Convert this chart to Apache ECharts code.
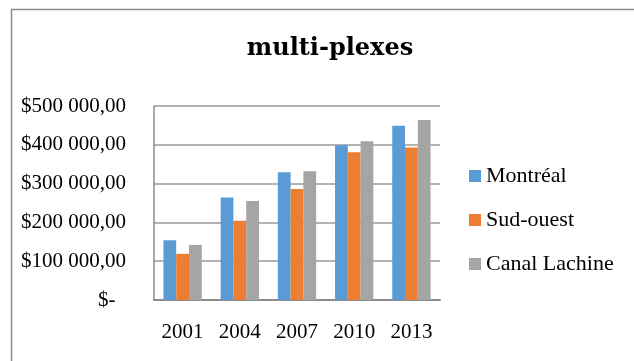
<!DOCTYPE html>
<html>
<head>
<meta charset="utf-8">
<script src="https://cdn.jsdelivr.net/npm/echarts@6/dist/echarts.min.js"></script>
<style>
  html, body { margin: 0; padding: 0; background: #fff; }
  #chart { width: 634px; height: 361px; }
</style>
</head>
<body>
<div id="chart"></div>
<script>
// Average multiplex values by survey year
const years = ['2001', '2004', '2007', '2010', '2013'];
const montreal = [154000, 264000, 329000, 399000, 449000];
const sudOuest = [119000, 204000, 286000, 381000, 393000];
const canalLachine = [142000, 255000, 332000, 409000, 464000];
const seriesNames = ['Montréal', 'Sud-ouest', 'Canal Lachine'];
const yTicks = { min: 0, max: 500000, step: 100000 };

const FONT = '"Liberation Serif", "DejaVu Serif", serif';
const TITLE_FONT = '"DejaVu Serif", "Liberation Serif", serif';

function money(v) {
  if (v === 0) return '$-  ';
  const s = Math.round(v).toString().replace(/\B(?=(\d{3})+(?!\d))/g, ' ');
  return '$' + s + ',00';
}

const chart = echarts.init(document.getElementById('chart'), null, { renderer: 'canvas' });
chart.setOption({
  animation: false,
  backgroundColor: '#fff',
  title: {
    text: 'multi-plexes',
    left: 330, top: 37, textAlign: 'center', padding: 0,
    textStyle: { fontFamily: TITLE_FONT, fontWeight: 'bold', fontSize: 24, color: '#000' }
  },
  graphic: [{
    type: 'rect', silent: true,
    shape: { x: 11.5, y: 9.5, width: 700, height: 500 },
    style: { fill: 'none', stroke: '#8a8a8a', lineWidth: 1.5 }
  }],
  legend: {
    orient: 'vertical', left: 469, top: 165, padding: 0,
    itemWidth: 12, itemHeight: 12, itemGap: 22,
    icon: 'rect',
    textStyle: { fontFamily: FONT, fontSize: 22, color: '#000' },
    data: seriesNames
  },
  grid: { left: 154, right: 194, top: 106, bottom: 61, containLabel: false },
  xAxis: {
    type: 'category', data: years,
    axisLine: { lineStyle: { color: '#8c8c8c', width: 2 } },
    axisTick: { show: false },
    axisLabel: { fontFamily: FONT, fontSize: 21, color: '#000', margin: 22 }
  },
  yAxis: {
    type: 'value', min: yTicks.min, max: yTicks.max, interval: yTicks.step,
    axisLine: { show: true, lineStyle: { color: '#8c8c8c', width: 1.5 } },
    axisTick: { show: false },
    splitLine: { lineStyle: { color: '#9a9a9a', width: 1.5 } },
    axisLabel: { fontFamily: FONT, fontSize: 21, color: '#000', margin: 28, formatter: money }
  },
  series: [
    { name: seriesNames[0], type: 'bar', data: montreal, itemStyle: { color: '#5B9BD5' }, barGap: '0%', barCategoryGap: '33%' },
    { name: seriesNames[1], type: 'bar', data: sudOuest, itemStyle: { color: '#ED7D31' }, barGap: '0%', barCategoryGap: '33%' },
    { name: seriesNames[2], type: 'bar', data: canalLachine, itemStyle: { color: '#A5A5A5' }, barGap: '0%', barCategoryGap: '33%' }
  ]
});
</script>
</body>
</html>
